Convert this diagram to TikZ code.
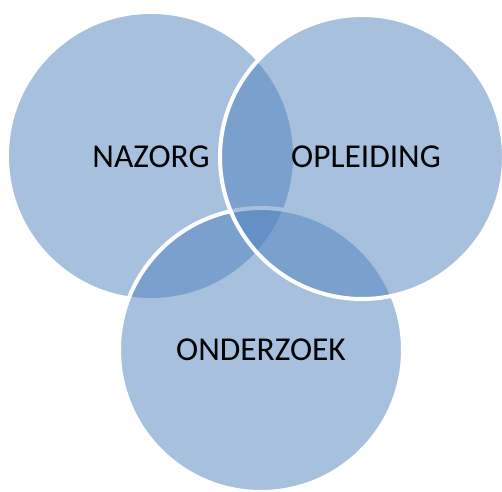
\documentclass[tikz,border=0pt]{standalone}
\usepackage{fontspec}
\setmainfont{Carlito}
\usepackage{tikz}
\definecolor{vennblue}{HTML}{4F81BD}

\begin{document}
\begin{tikzpicture}[x=0.02cm,y=-0.02cm,
		disc/.style={fill=vennblue,fill opacity=0.5},
		rim/.style={draw=white,line width=2.3pt},
		lbl/.style={font=\fontsize{19}{23}\selectfont,text=black}]
				\useasboundingbox (0,0) rectangle (502,491);
				\foreach \x/\a/\b in
				{N/151/156, O/261/350, P/362/157}{
					\coordinate(\x) at (\a,\b);
				}
				
				% circles (left, bottom, right)
				\fill[disc] (N) circle (142);
				\filldraw[disc,rim] (O) circle (142);
				\filldraw[disc,rim] (P) circle (142);
				
				% labels
				\node[lbl] (nazorg) at (151,157) {NAZORG}; % N
				\node[lbl] (opleiding) at (366,157) {OPLEIDING}; % P
				\node[lbl] (onderzoek) at (261,350) {ONDERZOEK}; % O
			\end{tikzpicture}
\end{document}
